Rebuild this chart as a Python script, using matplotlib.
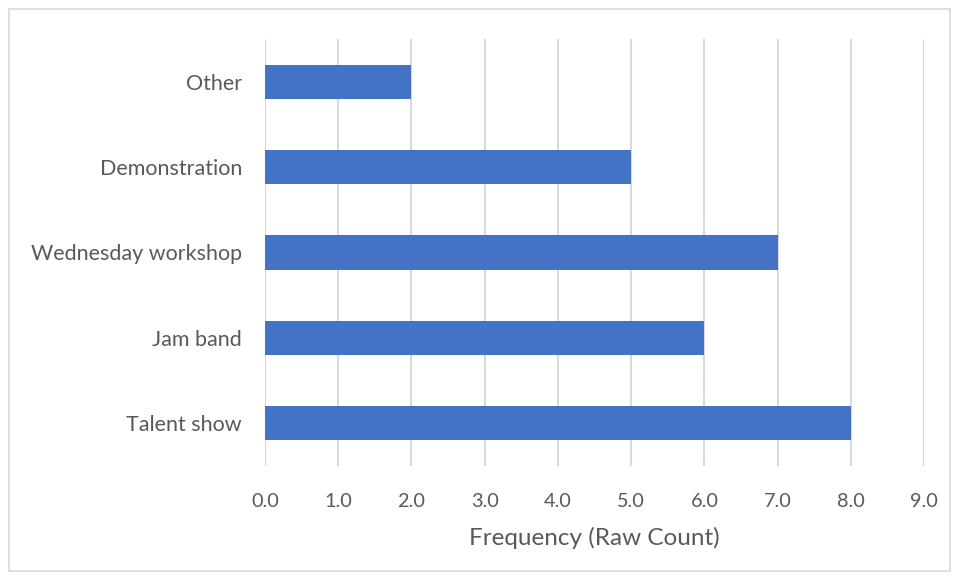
import matplotlib
matplotlib.use("Agg")
import matplotlib.pyplot as plt
from matplotlib.patches import Rectangle

categories = ["Talent show", "Jam band", "Wednesday workshop", "Demonstration", "Other"]
values = [8, 6, 7, 5, 2]
xticks = [0, 1, 2, 3, 4, 5, 6, 7, 8, 9]
xlabel = "Frequency (Raw Count)"

plt.rcParams['font.family'] = ['Lato', 'DejaVu Sans']
text_color = "#595959"
W, H = 958, 580
fig = plt.figure(figsize=(W/100, H/100), dpi=100)
ax = fig.add_axes([265/W, 1-466/H, (924-265)/W, (466-39)/H])

ax.barh(range(len(categories)), values, height=0.40, color="#4472C4", zorder=3)
ax.set_ylim(-0.5, len(categories)-0.5)
ax.set_xlim(0, 9)
ax.set_xticks(xticks)
ax.set_xticklabels([f"{v:.1f}" for v in xticks], fontsize=14.3, color=text_color)
ax.set_yticks(range(len(categories)))
ax.set_yticklabels(categories, fontsize=15.5, color=text_color)
ax.tick_params(axis='both', length=0)
ax.tick_params(axis='x', pad=19.5)
ax.tick_params(axis='y', pad=16.5)
ax.xaxis.grid(True, color="#D9D9D9", linewidth=1.5, zorder=0)
for s in ax.spines.values():
    s.set_visible(False)
ax.set_xlabel(xlabel, fontsize=17.5, color=text_color, labelpad=12)

fig.patches.append(Rectangle((9/W, 9/H), (950-9)/W, (571-9)/H, transform=fig.transFigure,
                             fill=False, edgecolor="#D9D9D9", linewidth=1.2))
fig.savefig("out.png", dpi=100)
